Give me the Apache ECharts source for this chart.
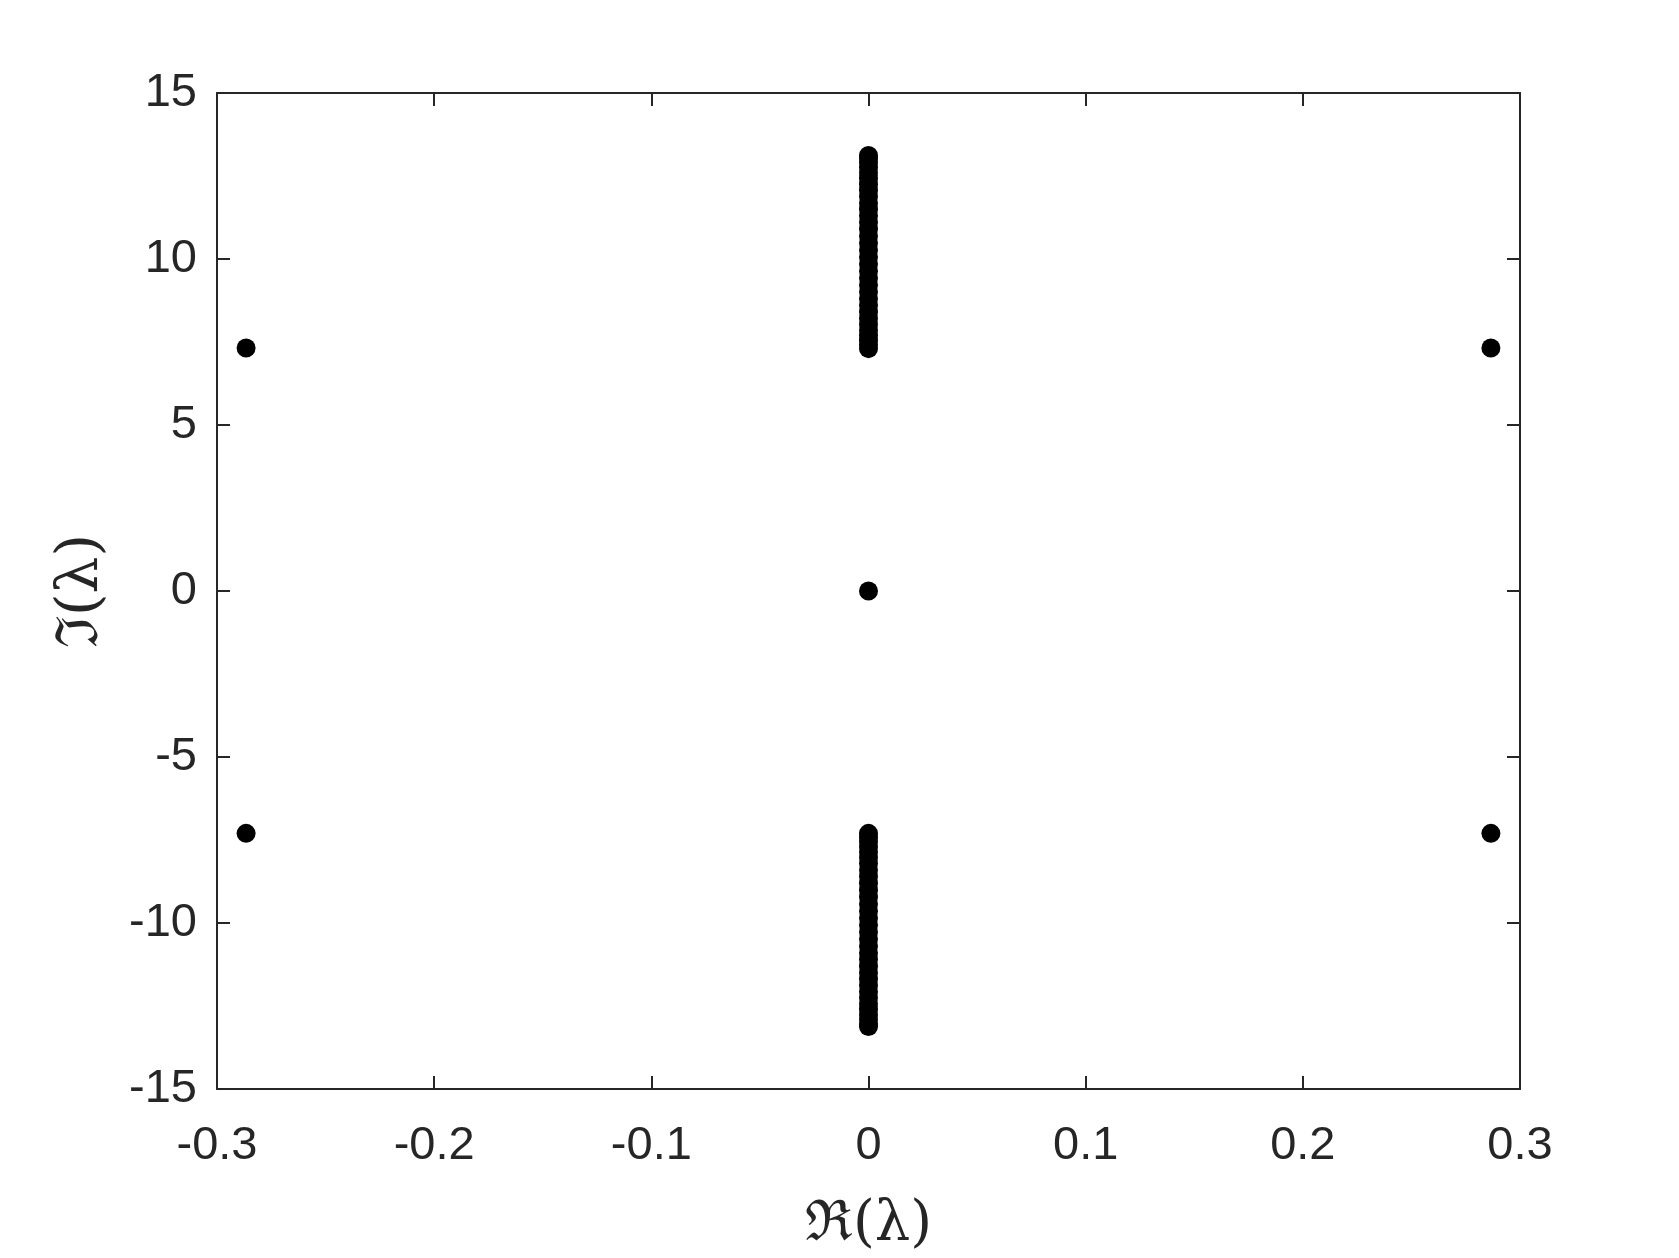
<!DOCTYPE html>
<html>
<head>
<meta charset="utf-8">
<script src="https://cdn.jsdelivr.net/npm/echarts@6/dist/echarts.min.js"></script>
<style>
html,body{margin:0;padding:0;background:#fff;}
#chart{width:1679px;height:1258px;}
</style>
</head>
<body>
<div id="chart"></div>
<script>
// Eigenvalue spectrum: real parts and imaginary parts
const upperBandIm = [7.30, 7.42, 7.55, 7.70, 7.86, 8.03, 8.21, 8.40, 8.60, 8.80, 9.01, 9.22, 9.43, 9.64, 9.85, 10.06, 10.27, 10.48, 10.69, 10.90, 11.10, 11.30, 11.50, 11.69, 11.88, 12.07, 12.25, 12.43, 12.60, 12.76, 12.91, 13.04, 13.12];
const lowerBandIm = [-7.30, -7.42, -7.55, -7.70, -7.86, -8.03, -8.21, -8.40, -8.60, -8.80, -9.01, -9.22, -9.43, -9.64, -9.85, -10.06, -10.27, -10.48, -10.69, -10.90, -11.10, -11.30, -11.50, -11.69, -11.88, -12.07, -12.25, -12.43, -12.60, -12.76, -12.91, -13.04, -13.12];
const bandRe = 0;
const isolatedRe = [-0.2866, 0.2866, -0.2866, 0.2866, 0];
const isolatedIm = [7.32, 7.32, -7.30, -7.30, 0];
const xTickLabels = ['-0.3', '-0.2', '-0.1', '0', '0.1', '0.2', '0.3'];
const yTickLabels = ['-15', '-10', '-5', '0', '5', '10', '15'];

const points = [];
upperBandIm.forEach(v => points.push([bandRe, v]));
lowerBandIm.forEach(v => points.push([bandRe, v]));
isolatedRe.forEach((r, i) => points.push([r, isolatedIm[i]]));

const axisColor = '#262626';
const tickFont = {fontFamily: 'Liberation Sans, Arial, sans-serif', fontSize: 47, color: axisColor};

function xLabel(v) {
  const idx = Math.round((v + 0.3) / 0.1);
  return xTickLabels[idx] !== undefined ? xTickLabels[idx] : '';
}
function yLabel(v) {
  const idx = Math.round((v + 15) / 5);
  return yTickLabels[idx] !== undefined ? yTickLabels[idx] : '';
}

const chart = echarts.init(document.getElementById('chart'), null, {renderer: 'canvas'});
const baseAxis = {
  axisLine: {show: true, onZero: false, lineStyle: {color: axisColor, width: 2}},
  axisTick: {show: true, inside: true, length: 13, lineStyle: {color: axisColor, width: 2}},
  splitLine: {show: false}
};
chart.setOption({
  backgroundColor: '#ffffff',
  animation: false,
  grid: {left: 217, top: 93, width: 1303, height: 1000},
  xAxis: [
    Object.assign({}, baseAxis, {
      type: 'value', min: -0.3, max: 0.3, interval: 0.1, position: 'bottom',
      axisLabel: Object.assign({}, tickFont, {margin: 34, formatter: xLabel}),
      name: 'ℜ(λ)', nameLocation: 'middle', nameGap: 108,
      nameTextStyle: {fontFamily: 'DejaVu Serif, serif', fontSize: 56, color: axisColor}
    }),
    Object.assign({}, baseAxis, {
      type: 'value', min: -0.3, max: 0.3, interval: 0.1, position: 'top',
      axisLabel: {show: false}
    })
  ],
  yAxis: [
    Object.assign({}, baseAxis, {
      type: 'value', min: -15, max: 15, interval: 5, position: 'left',
      axisLabel: Object.assign({}, tickFont, {margin: 20, padding: [9, 0, 0, 0], formatter: yLabel}),
      name: 'ℑ(λ)', nameLocation: 'middle', nameGap: 106, nameRotate: 90,
      nameTextStyle: {fontFamily: 'DejaVu Serif, serif', fontSize: 58, color: axisColor}
    }),
    Object.assign({}, baseAxis, {
      type: 'value', min: -15, max: 15, interval: 5, position: 'right',
      axisLabel: {show: false}
    })
  ],
  series: [{
    type: 'scatter',
    xAxisIndex: 0, yAxisIndex: 0,
    data: points,
    symbol: 'circle',
    symbolSize: 19,
    itemStyle: {color: '#000000', opacity: 1}
  }]
});
</script>
</body>
</html>
